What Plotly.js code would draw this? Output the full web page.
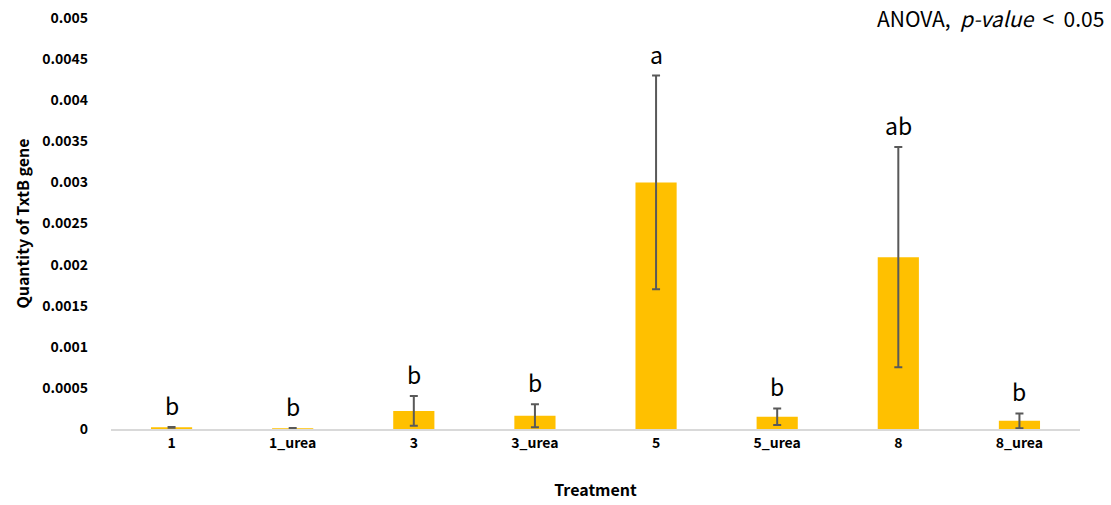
<!DOCTYPE html>
<html>
<head>
<meta charset="utf-8">
<script src="https://cdn.plot.ly/plotly-3.0.1.min.js"></script>
<style>html,body{margin:0;padding:0;background:#fff;}#chart{width:1111px;height:505px;}</style>
</head>
<body>
<div id="chart"></div>
<script>
const categories = ["1", "1_urea", "3", "3_urea", "5", "5_urea", "8", "8_urea"];
const values = [0.00002, 0.00001, 0.00022, 0.00016, 0.0030, 0.00015, 0.00209, 0.0001];
const errors = [0.000005, 0.000003, 0.00018, 0.00014, 0.0013, 0.0001, 0.00134, 0.00009];
const letters = ["b", "b", "b", "b", "a", "b", "ab", "b"];
const yTickVals = [0, 0.0005, 0.001, 0.0015, 0.002, 0.0025, 0.003, 0.0035, 0.004, 0.0045, 0.005];
const yTickText = ["0", "0.0005", "0.001", "0.0015", "0.002", "0.0025", "0.003", "0.0035", "0.004", "0.0045", "0.005"];

const font = "Noto Sans CJK KR, Noto Sans, sans-serif";

const trace = {
  type: "bar",
  x: categories,
  y: values,
  marker: {color: "#FFC000"},
  error_y: {type: "data", array: errors, visible: true, color: "#595959", thickness: 2, width: 4},
  hoverinfo: "none"
};

const annotations = categories.map((c, i) => ({
  x: i, y: values[i] + errors[i], xref: "x", yref: "y",
  text: letters[i], showarrow: false, yanchor: "bottom", yshift: 3,
  font: {family: font, size: 23, color: "#000"}
}));
annotations.push({
  xref: "paper", yref: "paper", x: 1.027, y: 1.0, xanchor: "right", yanchor: "middle",
  text: "ANOVA,&nbsp; <i>p-value</i>&nbsp; &lt;&nbsp; 0.05", showarrow: false,
  font: {family: font, size: 21, color: "#000"}
});

const layout = {
  width: 1111, height: 505,
  margin: {l: 111, r: 31, t: 18, b: 76},
  paper_bgcolor: "#fff", plot_bgcolor: "#fff",
  showlegend: false,
  bargap: 0.66,
  font: {family: font},
  xaxis: {
    type: "category",
    range: [-0.5, 7.5],
    showgrid: false, zeroline: false,
    showline: true, linecolor: "#d9d9d9", linewidth: 2,
    ticks: "",
    tickfont: {family: font, size: 14, color: "#000", weight: "bold"},
    title: {text: "Treatment", font: {family: font, size: 16, color: "#000", weight: "bold"}, standoff: 34}
  },
  yaxis: {
    range: [0, 0.005],
    tickvals: yTickVals, ticktext: yTickText,
    showgrid: false, zeroline: false, showline: false,
    ticks: "", ticklabelstandoff: 22,
    tickfont: {family: font, size: 14, color: "#000", weight: "bold"},
    title: {text: "Quantity of TxtB gene", font: {family: font, size: 16, color: "#000", weight: "bold"}, standoff: 8}
  },
  annotations: annotations
};

Plotly.newPlot("chart", [trace], layout, {staticPlot: true, displayModeBar: false});
</script>
</body>
</html>
